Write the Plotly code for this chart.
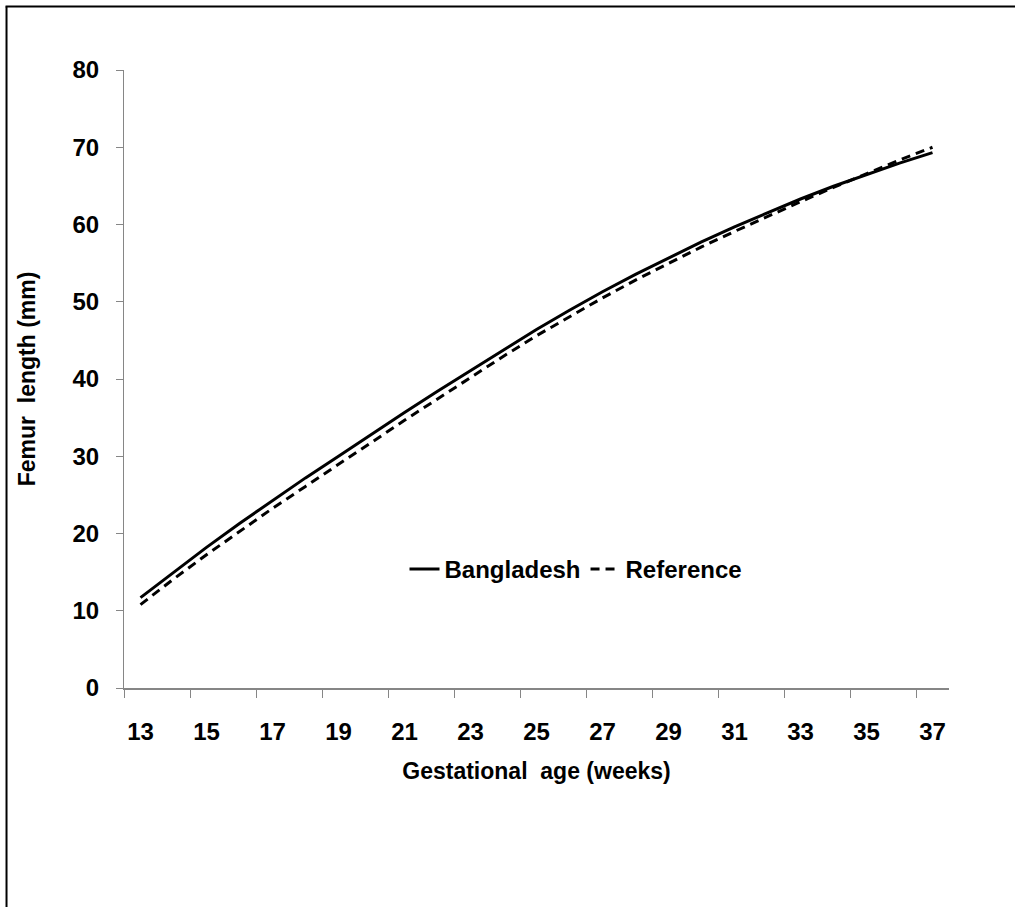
import plotly.graph_objects as go

weeks = list(range(13, 38))
bangladesh = [11.7, 15.0, 18.2, 21.3, 24.3, 27.2, 30.0, 32.85, 35.65, 38.4, 41.1, 43.8, 46.4,
              48.9, 51.3, 53.55, 55.7, 57.75, 59.7, 61.55, 63.3, 64.95, 66.5, 67.95, 69.3]
reference = [10.8, 14.1, 17.25, 20.3, 23.25, 26.1, 28.9, 31.8, 34.65, 37.45, 40.2, 42.95, 45.6,
             48.1, 50.5, 52.8, 55.0, 57.1, 59.1, 61.05, 62.95, 64.8, 66.6, 68.35, 70.0]
x_labels = [str(w) for w in range(13, 38, 2)]
y_ticks = list(range(0, 81, 10))

FONT = "Liberation Sans, Arial, sans-serif"
AXC = "#868686"

fig = go.Figure()
fig.add_trace(go.Scatter(x=weeks, y=bangladesh, mode="lines", name="Bangladesh",
                         line=dict(color="black", width=3)))
fig.add_trace(go.Scatter(x=weeks, y=reference, mode="lines", name="Reference",
                         line=dict(color="black", width=3, dash="9px,6px")))

fig.update_layout(
    width=1015, height=907,
    margin=dict(l=124, r=66, t=70, b=219),
    paper_bgcolor="white", plot_bgcolor="white",
    font=dict(family=FONT, size=24, color="black", weight="bold"),
    showlegend=True,
    legend=dict(orientation="h", x=0.34, y=0.192, xanchor="left", yanchor="middle",
                bgcolor="rgba(0,0,0,0)", font=dict(family=FONT, size=24, weight="bold"),
                itemwidth=30),
    xaxis=dict(
        range=[12.5, 37.5], showgrid=False, zeroline=False,
        showline=True, linecolor=AXC, linewidth=2,
        tickmode="array", tickvals=[int(v) for v in x_labels], ticktext=x_labels,
        ticks="", ticklabelstandoff=21,
        tickfont=dict(family=FONT, size=24, weight="bold"),
        minor=dict(tickmode="array", tickvals=[v - 0.5 for v in range(13, 38, 2)],
                   ticks="outside", ticklen=8, tickcolor=AXC, tickwidth=1, showgrid=False),
        title=dict(text="Gestational\u00a0\u00a0age (weeks)", standoff=19,
                   font=dict(family=FONT, size=23, weight="bold")),
    ),
    yaxis=dict(
        range=[0, 80], showgrid=False, zeroline=False,
        showline=True, linecolor=AXC, linewidth=1,
        tickmode="array", tickvals=y_ticks,
        ticks="outside", ticklen=7, tickcolor=AXC, tickwidth=1,
        ticklabelstandoff=12,
        tickfont=dict(family=FONT, size=24, weight="bold"),
        title=dict(text="Femur\u00a0\u00a0length (mm)", standoff=30,
                   font=dict(family=FONT, size=23, weight="bold")),
    ),
)

# outer frame lines (left and top)
fig.add_shape(type="line", xref="paper", yref="paper", x0=-0.1424, x1=-0.1424, y0=-0.36, y1=1.1027,
              line=dict(color="black", width=2))
fig.add_shape(type="line", xref="paper", yref="paper", x0=-0.1436, x1=1.0815, y0=1.1027, y1=1.1027,
              line=dict(color="black", width=2))

fig.write_html("out.html", config={"displayModeBar": False})
